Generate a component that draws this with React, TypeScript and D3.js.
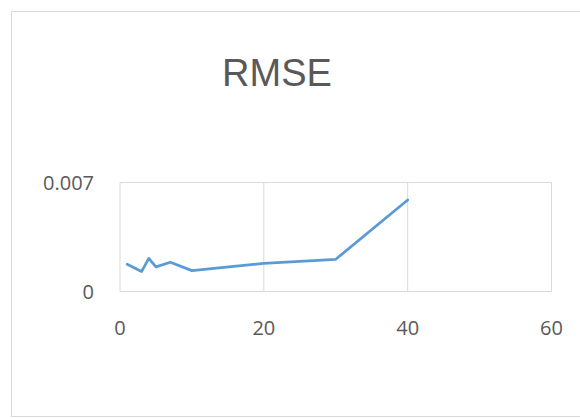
import React from "react";
import * as d3 from "d3";

const xValues = [1, 3, 4, 5, 7, 10, 20, 30, 40];
const rmseValues = [0.00175, 0.00128, 0.00213, 0.00158, 0.00188, 0.00134, 0.00181, 0.00207, 0.00588];
const xTicks = [0, 20, 40, 60];
const yTicks = [0, 0.007];
const yTickLabels = ["0", "0.007"];
const title = "RMSE";

export default function App() {
  const W = 580, H = 418;
  const x = d3.scaleLinear().domain([0, 60]).range([120, 551.5]);
  const y = d3.scaleLinear().domain([0, 0.007]).range([291.5, 182.5]);
  const line = d3.line<number>().x((_, i) => x(xValues[i])).y((d) => y(d));
  const font = "'Open Sans', 'Noto Sans', sans-serif";
  return (
    <svg width={W} height={H} style={{ position: "absolute", left: 0, top: 0, background: "#fff" }}>
      <rect x={11.5} y={11.5} width={600} height={405} fill="#fff" stroke="#d9d9d9" strokeWidth={1} />
      <text x={277} y={86} textAnchor="middle" fontFamily="'Liberation Sans', Arial, sans-serif" fontSize={38} fill="#595959">{title}</text>
      {xTicks.map((t) => (
        <line key={"gx" + t} x1={x(t)} x2={x(t)} y1={y(0.007)} y2={y(0)} stroke="#d9d9d9" strokeWidth={1} />
      ))}
      {yTicks.map((t) => (
        <line key={"gy" + t} x1={x(0)} x2={x(60)} y1={y(t)} y2={y(t)} stroke="#d9d9d9" strokeWidth={1} />
      ))}
      {yTicks.map((t, i) => (
        <text key={"ty" + t} x={94} y={y(t)} dy="0.35em" textAnchor="end" fontFamily={font} fontSize={20} fill="#595959">{yTickLabels[i]}</text>
      ))}
      {xTicks.map((t) => (
        <text key={"tx" + t} x={x(t)} y={335} textAnchor="middle" fontFamily={font} fontSize={20} fill="#595959">{String(t)}</text>
      ))}
      <path d={line(rmseValues) || ""} fill="none" stroke="#5b9bd5" strokeWidth={2.75} strokeLinejoin="round" strokeLinecap="round" />
    </svg>
  );
}
